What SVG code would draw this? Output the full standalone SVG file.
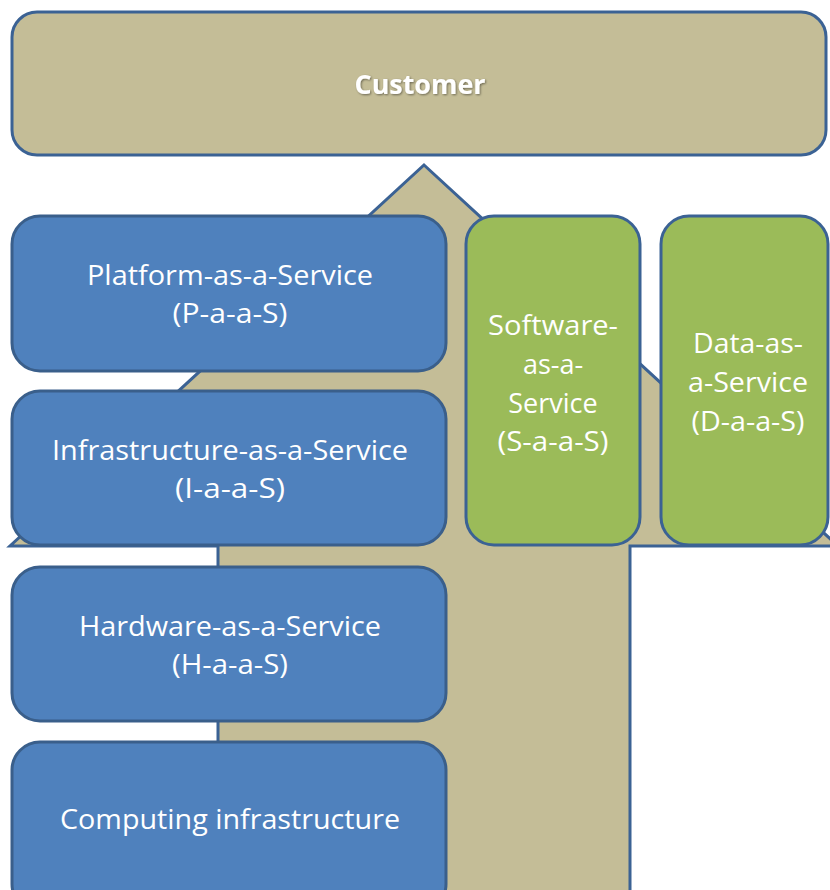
<svg xmlns="http://www.w3.org/2000/svg" width="830" height="890" viewBox="0 0 830 890">
<defs>
<style>
.tan{fill:#C4BD97;stroke:#3B6294;stroke-width:3}
.blue{fill:#4F81BD;stroke:#3A5F8B;stroke-width:3}
.green{fill:#9BBB59;stroke:#3B6294;stroke-width:3}
.t{font-family:"Open Sans","Noto Sans","Liberation Sans",sans-serif;font-size:27px;fill:#FFFFFF;text-anchor:middle}
.tb{font-family:"Open Sans","Noto Sans","Liberation Sans",sans-serif;font-size:26px;font-weight:bold;fill:#FFFFFF;text-anchor:middle}
</style>
<filter id="sh" x="-10%" y="-20%" width="120%" height="150%">
<feDropShadow dx="1" dy="1" stdDeviation="0.8" flood-color="#000000" flood-opacity="0.45"/>
</filter>
</defs>
<rect width="830" height="890" fill="#FFFFFF"/>
<g id="connectors">
<polygon class="tan" points="424,165 838,546 630,546 630,900 218,900 218,546 10,546"/>
</g>
<g id="customer">
<rect class="tan" x="12" y="12" width="814" height="143" rx="25"/>
<text class="tb" x="420" y="94" textLength="131" lengthAdjust="spacingAndGlyphs" filter="url(#sh)">Customer</text>
</g>
<g id="paas">
<rect class="blue" x="12" y="216" width="434" height="155" rx="28"/>
<text class="t" x="230" y="285" textLength="286" lengthAdjust="spacingAndGlyphs">Platform-as-a-Service</text>
<text class="t" x="230" y="323" textLength="115" lengthAdjust="spacingAndGlyphs">(P-a-a-S)</text>
</g>
<g id="iaas">
<rect class="blue" x="12" y="391" width="434" height="154" rx="28"/>
<text class="t" x="230" y="460" textLength="356" lengthAdjust="spacingAndGlyphs">Infrastructure-as-a-Service</text>
<text class="t" x="230" y="498" textLength="110" lengthAdjust="spacingAndGlyphs">(I-a-a-S)</text>
</g>
<g id="haas">
<rect class="blue" x="12" y="567" width="434" height="154" rx="28"/>
<text class="t" x="230" y="636" textLength="302" lengthAdjust="spacingAndGlyphs">Hardware-as-a-Service</text>
<text class="t" x="230" y="674" textLength="116" lengthAdjust="spacingAndGlyphs">(H-a-a-S)</text>
</g>
<g id="computing">
<rect class="blue" x="12" y="742" width="434" height="170" rx="28"/>
<text class="t" x="230" y="829" textLength="340" lengthAdjust="spacingAndGlyphs">Computing infrastructure</text>
</g>
<g id="saas">
<rect class="green" x="466" y="216" width="174" height="329" rx="28"/>
<text class="t" x="553" y="335" textLength="130" lengthAdjust="spacingAndGlyphs">Software-</text>
<text class="t" x="553" y="374">as-a-</text>
<text class="t" x="553" y="413">Service</text>
<text class="t" x="553" y="451" textLength="111" lengthAdjust="spacingAndGlyphs">(S-a-a-S)</text>
</g>
<g id="daas">
<rect class="green" x="661" y="216" width="167" height="329" rx="28"/>
<text class="t" x="748" y="353" textLength="110" lengthAdjust="spacingAndGlyphs">Data-as-</text>
<text class="t" x="748" y="392" textLength="120" lengthAdjust="spacingAndGlyphs">a-Service</text>
<text class="t" x="748" y="431" textLength="113" lengthAdjust="spacingAndGlyphs">(D-a-a-S)</text>
</g>
</svg>
